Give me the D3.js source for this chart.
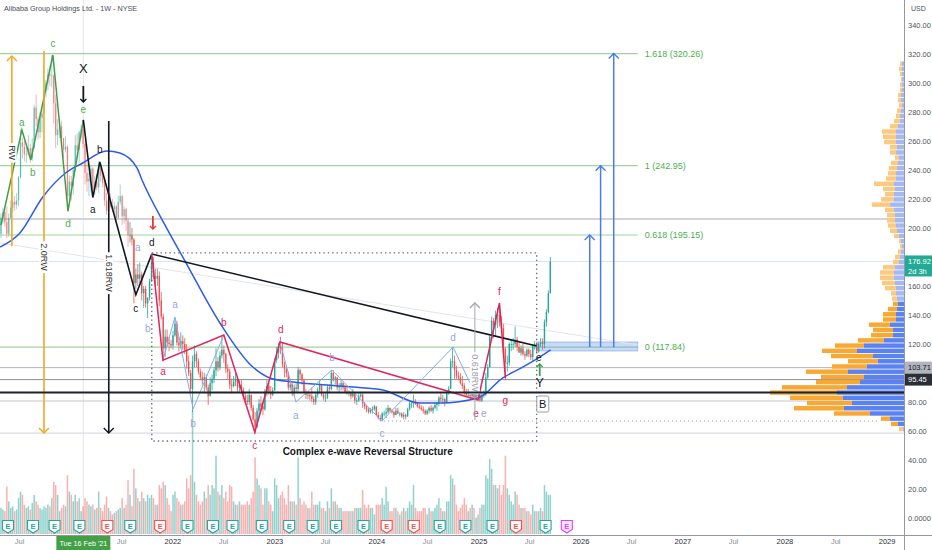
<!DOCTYPE html>
<html>
<head>
<meta charset="utf-8">
<script src="https://cdn.jsdelivr.net/npm/d3@7"></script>
<style>
html, body { margin: 0; padding: 0; background: #fff; }
svg { display: block; font-family: "Liberation Sans", Arial, sans-serif; }
</style>
</head>
<body>
<svg id="chart" width="932" height="550"></svg>
<script>
"use strict";
// weekly bars [high, low, close, volume M] - each year list starts on its first Monday
const yearStarts = ["2020-04-20", "2021-01-04", "2022-01-03", "2023-01-02", "2024-01-01", "2025-01-06"];
const firstOpen = 193;
const bars2020 = [
  [200,188,196,70],[210,193,207,80],
  [214,203,211,75],[213,201,204,70],[215,193,196,145],[210,194,207,100],
  [219,207,214,80],[225,211,218,85],[222,212,216,70],[224,213,219,75],[236,215,235,110],
  [268,234,259,130],[262,248,256,120],[260,246,251,90],[258,245,251,80],
  [264,250,255,85],[258,245,248,75],[262,246,255,95],[285,255,283,120],[292,270,275,100],
  [277,261,266,90],[280,262,276,80],[283,266,279,75],[296,279,294,85],
  [302,290,300,80],[310,295,306,90],[312,298,305,85],[319,297,305,110],
  [306,272,286,160],[292,255,264,150],[275,257,268,120],[275,262,270,70],[274,258,262,80],
  [262,248,254,90],[263,252,256,85],[257,211,222,180],[236,220,232,130]
];
const bars2021 = [
  [236,219,229,120],[242,223,240,100],[264,239,257,120],[265,248,254,100],
  [267,245,266,110],[271,262,268,70],[274,255,258,85],[260,230,238,110],
  [245,225,232,100],[238,222,234,90],[243,225,241,85],[242,222,227,90],[236,223,232,75],
  [237,226,228,80],[246,224,241,130],[244,232,236,80],[238,228,231,70],
  [233,215,219,90],[224,209,212,115],[220,208,218,80],[224,214,215,70],[220,211,213,60],
  [218,210,215,65],[216,205,207,70],[222,206,218,75],[230,216,222,80],
  [223,202,208,110],[215,203,213,80],[214,198,205,90],[207,187,195,165],
  [204,190,195,120],[200,188,192,85],[193,148,162,200],[172,158,168,140],[175,160,165,110],
  [176,162,168,100],[170,150,155,130],[160,145,158,110],[160,145,148,100],
  [152,138,152,120],[165,150,163,110],[182,163,176,120],[180,165,167,110],
  [172,160,165,90],[172,160,167,90],[170,146,150,150],[156,137,139,140],[141,108,117,160],
  [130,111,125,150],[130,118,121,110],[125,115,120,90],[123,117,119,70]
];
const bars2022 = [
  [129,116,126,120],[138,125,134,130],[136,119,121,110],[125,115,119,100],[128,117,122,90],
  [126,116,120,90],[124,113,116,100],[120,103,108,170],[112,98,100,140],
  [102,86,89,180],[112,73,108,380],[119,104,113,160],[115,104,108,120],
  [110,99,101,100],[103,95,97,90],[101,92,95,100],[100,86,97,130],
  [99,88,90,110],[92,78,84,150],[97,84,93,120],[99,88,96,150],[104,93,102,140],
  [117,98,108,240],[111,101,104,130],[115,102,112,120],[125,110,116,150],
  [119,107,113,110],[114,100,103,130],[106,96,101,100],[103,89,92,150],
  [96,86,91,145],[98,90,94,100],[100,91,96,90],[97,87,90,90],[95,87,92,100],
  [95,86,88,90],[90,82,84,90],[86,79,81,90],[85,78,80,100],
  [89,78,85,90],[84,74,76,110],[78,67,68,130],[73,58,63,235],[76,62,74,170],
  [82,70,79,150],[84,74,77,140],[80,71,75,90],[89,74,87,140],
  [95,84,91,140],[93,85,87,100],[91,82,85,90],[90,84,88,70]
];
const bars2023 = [
  [110,90,109,170],[118,107,114,150],[121,110,118,110],[125,113,117,120],[121,104,106,130],
  [108,97,103,110],[104,97,100,90],[101,88,90,150],[96,88,92,100],
  [93,84,86,100],[92,84,90,100],[93,86,89,90],[104,87,102,235],
  [103,95,99,110],[100,92,95,90],[96,86,87,100],[89,82,85,90],
  [87,82,85,80],[87,81,84,80],[90,80,82,130],[84,78,80,90],[86,78,85,90],
  [90,83,88,90],[95,86,92,100],[92,84,85,80],[86,81,83,80],
  [86,80,83,70],[92,82,90,100],[92,86,89,80],[102,88,100,140],[102,94,96,100],
  [98,92,97,100],[97,88,90,90],[93,86,91,80],[96,88,93,80],
  [94,88,90,70],[92,86,87,70],[90,85,86,70],[88,84,87,70],
  [87,82,84,70],[89,83,86,70],[86,79,81,80],[83,78,81,80],[86,80,84,80],
  [87,83,85,80],[87,76,79,135],[80,75,77,90],[78,73,75,80],
  [76,72,73,90],[76,72,75,80],[77,72,75,80],[78,74,77,60]
];
const bars2024 = [
  [76,70,71,90],[73,68,69,90],[71,67,68,90],[73,66.6,72,110],[74,70,72,90],
  [76,69,73,145],[78,72,76,100],[76,73,74,70],[75,72,73,70],
  [74,69,71,80],[76,71,74,80],[76,72,72,70],[73,70,72,60],
  [73,69,70,70],[73,68,71,80],[72,68,70,70],[76,70,75,80],[80,74,79,100],
  [80,76,79,90],[85,76,80,150],[82,78,79,80],[80,76,77,70],
  [79,75,76,70],[78,74,75,70],[77,72,74,80],[75,71,72,80],
  [75,71,74,60],[77,72,76,80],[78,73,74,70],[77,72,76,70],[80,75,78,80],
  [80,74,79,90],[84,77,83,110],[86,80,82,80],[85,79,82,70],
  [83,77,80,70],[88,79,87,100],[91,85,89,100],[110,89,108,180],[118,104,108,170],
  [112,96,102,150],[105,96,98,90],[101,95,97,70],[100,92,93,80],
  [98,89,91,90],[93,85,87,110],[89,84,85,90],[89,84,85,70],
  [87,82,84,80],[90,83,86,90],[87,82,83,80],[86,82,85,50],[87,82,85,60]
];
const bars2025 = [
  [86,80,81,80],[86,80,85,90],[88,83,85,90],[100,84,97,180],
  [106,96,104,170],[126,104,125,230],[139,122,136,200],[138,124,133,150],
  [143,125,140,150],[145,131,140,140],[148,132,135,150],[139,128,131,120],[134,113,117,150],
  [118,95,107,240],[112,101,107,140],[121,105,120,120],[123,115,120,100],
  [124,116,120,90],[132,118,123,130],[125,115,118,120],[122,114,114,90],
  [119,112,117,80],[120,112,113,80],[115,109,112,80],[117,111,116,70],[117,111,113,70],
  [116,109,111,60],[120,108,119,90],[122,116,120,70],[121,114,115,70],
  [121,114,120,70],[124,118,121,80],[124,116,120,70],[137,117,135,150],
  [144,132,142,130],[157,141,155,120],[180,155,176.92,120]
];

// blue weekly moving average
const maDates = ["2020-04-24","2020-07-04","2020-09-24","2020-12-19","2021-02-14","2021-05-11","2021-06-27",
  "2021-08-27","2021-09-14","2021-12-05","2022-02-15","2022-06-20","2022-10-16","2022-12-16","2023-03-08",
  "2023-07-08","2023-10-09","2024-01-24","2024-06-04","2024-08-16","2024-12-30","2025-03-29","2025-06-08",
  "2025-08-08","2025-09-16"];
const maValues = [186.9,196.6,221.4,238.6,244.8,253.1,251.7,241.4,233.1,202.1,177.2,134.5,104.1,96.6,93.8,
  91.7,90.3,88.3,79.3,79.3,82.8,96.6,104.1,111.0,115.9];

// wave counts [date, price]
const greenWave = [["2020-04-27",202],["2020-07-11",267.6],["2020-08-12",246.9],["2020-10-30",319.3],["2020-12-23",211.7],["2021-02-16",274.5]];
const blackWave = [["2021-02-16",274.5],["2021-03-22",221],["2021-04-16",245.5],["2021-08-23",154],["2021-10-19",182]];
const blackTrend = [["2021-10-19",182],["2025-07-28",118.6]];
const pinkWave = [["2021-10-19",182],["2021-11-28",108.9],["2022-07-04",126.2],["2022-10-23",59.3],["2023-01-21",121.4],
  ["2024-12-30",81.4],["2025-03-17",148.3],["2025-04-07",96.6]];
const blueWaveA = [["2021-11-28",108.9],["2022-01-10",138.6],["2022-03-16",75.2],["2022-07-04",126.2]];
const blueWaveB = [["2023-01-21",121.4],["2023-03-19",80],["2023-07-26",102.1],["2024-01-21",66.9],["2024-10-02",117.9],["2024-12-30",81.4]];
const faintTrend = [["2020-04-24",189.7],["2026-07-27",119.3]];

// wave labels [date, price, text, colour key]
const waveLabels = [
  ["2020-07-11",272.4,"a","g"],["2020-08-19",238.6,"b","g"],["2020-10-30",326.9,"c","g"],["2020-12-23",203.4,"d","g"],["2021-02-16",281.4,"e","g"],
  ["2021-03-22",212.4,"a","k"],["2021-04-16",253.8,"b","k"],["2021-08-23",144.8,"c","k"],["2021-10-19",190.3,"d","k"],["2025-08-05",111,"e","k"],
  ["2021-11-28",100.7,"a","p"],["2022-07-04",134.5,"b","p"],["2022-10-23",50.3,"c","p"],["2023-01-24",129.7,"d","p"],
  ["2024-12-23",72.4,"e","p"],["2025-03-17",155.9,"f","p"],["2025-04-07",80.7,"g","p"],
  ["2021-08-30",186.2,"a","b"],["2021-10-05",131,"b","b"],["2022-01-10",146.9,"a","b"],["2022-03-16",65.5,"b","b"],
  ["2023-03-19",71,"a","b"],["2023-07-26",111,"b","b"],["2024-01-21",58.6,"c","b"],["2024-10-02",124.8,"d","b"],["2025-01-20",72.4,"e","b"]
];

// measured moves [date, from price, to price, label, colour, label price]
const rwArrows = [["2020-06-05",187.6,318.6,"RW","#f5a623",252],["2020-09-28",322,58.6,"2.0RW","#f5a623",180],
  ["2021-05-18",273.8,58.6,"1.618RW","#131722",169],["2024-12-19",67.6,148.3,"0.618RW","#a3a6af",100]];
const smallArrows = [["2021-02-16",297.9,286.9,"#131722"],["2021-10-23",208.3,199.3,"#e53935"],["2025-08-08",97.9,106.2,"#43a047"]];

// fibonacci extension
const fibLevels = [0, 0.618, 1, 1.618];
const fibPrices = [117.84, 195.15, 242.95, 320.26];
const fibArrowDates = ["2026-02-03", "2026-03-14", "2026-04-30"];

// horizontal levels
const levelPrices = [206.2, 103.71, 95.45, 80.7, 58.6];
const levelColors = ["#d1d4dc", "#b2b5be", "#8a8d96", "#c3c6cd", "#d1d4dc"];
const lastPrice = 176.92;

// volume profile rows from 59.5 in 3.6 steps
const vpStart = 59.5, vpStep = 3.6;
const vpTotal = [5,13,23,70,110,97,114,134,122,88,83,98,72,56,73,82,69,46,33,31,35,21,21,16,11,12,13,19,22,24,24,21,11,9,6,4,5,10,14,16,17,17,19,32,23,19,21,30,18,16,15,13,9,14,14,20,21,22,14,10,8,7,5,6,6,4,4,3,4,5,4];
const vpUp = [1,6,14,34,60,52,61,67,57,44,40,56,37,26,31,47,40,20,11,11,14,8,8,7,6,7,8,8,9,10,10,9,5,4,3,2,3,5,7,8,9,9,10,14,10,10,9,10,8,8,7,6,5,8,7,8,8,8,6,4,4,3,2,3,3,2,2,2,2,2,2];

// earnings reports (1 beat, 0 miss, -1 upcoming)
const earningsDates = ["2020-05-22","2020-08-20","2020-11-05","2021-02-02","2021-05-13","2021-08-03","2021-11-18","2022-02-24",
  "2022-05-26","2022-08-04","2022-11-17","2023-02-23","2023-05-18","2023-08-10","2023-11-16","2024-02-07","2024-05-14",
  "2024-08-15","2024-11-15","2025-02-20","2025-05-15","2025-08-29","2025-11-13"];
const earningsResult = [1,1,1,1,0,1,0,1,1,1,1,1,1,1,1,0,0,1,1,1,0,1,-1];

const xTickDates = ["2020-07-01","2021-07-01","2022-01-01","2022-07-01","2023-01-01","2023-07-01","2024-01-01","2024-07-01",
  "2025-01-01","2025-07-01","2026-01-01","2026-07-01","2027-01-01","2027-07-01","2028-01-01","2028-07-01","2029-01-01"];
const priceTicks = d3.range(0, 341, 20);
const crossDate = "2021-02-16";
const boxDates = ["2021-10-19", "2025-07-28"];
const boxPrices = [53.1, 182.8];

const parse = d3.timeParse("%Y-%m-%d");
const svg = d3.select("#chart");
const plotR = 904, plotB = 535;

const x = d3.scaleTime().domain([parse("2020-04-20"), parse("2029-01-01")]).range([-1, 886.6]);
const y = d3.scaleLinear().domain([-11.7, 357.2]).range([plotB, 0]);
const yVol = d3.scaleLinear().domain([0, 380]).range([534, 410]);
const X = s => x(parse(s));

// build candles
const candles = [];
let prevClose = firstOpen;
[bars2020, bars2021, bars2022, bars2023, bars2024, bars2025].forEach((bars, k) => {
  const s = parse(yearStarts[k]);
  bars.forEach((b, i) => {
    const o = prevClose;
    candles.push({date: d3.timeDay.offset(s, 7 * i), open: o, close: b[2],
      high: Math.max(b[0], o, b[2]), low: Math.min(b[1], o, b[2]), vol: b[3]});
    prevClose = b[2];
  });
});

svg.append("defs").append("clipPath").attr("id", "plot")
  .append("rect").attr("x", 0).attr("y", 0).attr("width", plotR).attr("height", plotB);
const g = svg.append("g").attr("clip-path", "url(#plot)");

// crosshair
g.append("line").attr("x1", X(crossDate)).attr("x2", X(crossDate)).attr("y1", 0).attr("y2", plotB)
  .attr("stroke", "#e3e5ea").attr("stroke-width", 1);

// horizontal levels
g.selectAll(".lvl").data(levelPrices).enter().append("line")
  .attr("x1", 0).attr("x2", plotR).attr("y1", d => y(d)).attr("y2", d => y(d))
  .attr("stroke", (d, i) => levelColors[i]).attr("stroke-width", (d, i) => i === 0 ? 2 : 1);
g.append("line").attr("x1", 0).attr("x2", plotR).attr("y1", y(lastPrice)).attr("y2", y(lastPrice))
  .attr("stroke", "#d6e4ee").attr("stroke-width", 1);
g.append("line").attr("x1", X("2024-01-14")).attr("x2", X("2028-12-08")).attr("y1", y(66.9)).attr("y2", y(66.9))
  .attr("stroke", "#9a9da6").attr("stroke-dasharray", "1,3");

// fib lines
const fibEnd = X("2026-07-25");
g.selectAll(".fib").data(fibPrices).enter().append("line")
  .attr("x1", 0).attr("x2", fibEnd).attr("y1", d => y(d)).attr("y2", d => y(d))
  .attr("stroke", "#9fd49f").attr("stroke-width", 1.2);
g.append("rect").attr("x", X("2025-07-28")).attr("y", y(121.4))
  .attr("width", fibEnd - X("2025-07-28")).attr("height", y(115.2) - y(121.4))
  .attr("fill", "rgba(100,150,235,0.35)").attr("stroke", "rgba(100,150,235,0.5)");

const line = d3.line().x(d => X(d[0])).y(d => y(d[1]));
g.append("path").attr("d", line(faintTrend)).attr("fill", "none").attr("stroke", "#e2e4e9").attr("stroke-width", 1);

// volume
const bw = 1.5;
g.selectAll(".vol").data(candles).enter().append("rect")
  .attr("x", d => x(d.date) - bw / 2).attr("width", bw)
  .attr("y", d => yVol(d.vol)).attr("height", d => 534 - yVol(d.vol))
  .attr("fill", d => d.close >= d.open ? "rgba(38,166,154,0.5)" : "rgba(239,83,80,0.45)");

// candles
const fadeBefore = parse("2021-08-01");
const cg = g.append("g");
candles.forEach(d => {
  const col = d.close >= d.open ? "#26a69a" : "#ef5350";
  const op = d.date < fadeBefore ? 0.55 : 1;
  cg.append("line").attr("x1", x(d.date)).attr("x2", x(d.date)).attr("y1", y(d.high)).attr("y2", y(d.low))
    .attr("stroke", col).attr("stroke-width", 0.8).attr("opacity", op);
  cg.append("rect").attr("x", x(d.date) - 0.7).attr("width", 1.4)
    .attr("y", y(Math.max(d.open, d.close))).attr("height", Math.max(0.8, Math.abs(y(d.open) - y(d.close))))
    .attr("fill", col).attr("opacity", op);
});

// moving average
const maPts = maDates.map((d, i) => [d, maValues[i]]);
g.append("path").attr("d", d3.line().x(d => X(d[0])).y(d => y(d[1])).curve(d3.curveMonotoneX)(maPts))
  .attr("fill", "none").attr("stroke", "#2d5be3").attr("stroke-width", 1.5);

// waves
function wave(pts, col, w) {
  g.append("path").attr("d", line(pts)).attr("fill", "none").attr("stroke", col).attr("stroke-width", w);
}
wave(blueWaveA, "#86aaec", 1);
wave(blueWaveB, "#86aaec", 1);
wave(greenWave, "#3f9d4a", 1.5);
wave(blackWave, "#131722", 1.6);
wave(blackTrend, "#131722", 1.6);
wave(pinkWave, "#e0245e", 1.5);

const labelCol = {g: "#4caf50", k: "#131722", p: "#e0245e", b: "#98a6dc"};
g.selectAll(".wl").data(waveLabels).enter().append("text")
  .attr("x", d => X(d[0])).attr("y", d => y(d[1])).attr("dy", "0.35em")
  .attr("text-anchor", "middle").attr("font-size", 10).attr("fill", d => labelCol[d[3]])
  .text(d => d[2]);

// dotted box
const bx0 = X(boxDates[0]), bx1 = X(boxDates[1]), by0 = y(boxPrices[1]), by1 = y(boxPrices[0]);
g.append("rect").attr("x", bx0).attr("y", by0).attr("width", bx1 - bx0).attr("height", by1 - by0)
  .attr("fill", "none").attr("stroke", "#6b6e78").attr("stroke-width", 1.4).attr("stroke-dasharray", "1.4,3");
g.append("text").attr("x", X("2023-12-01")).attr("y", y(46.2)).attr("dy", "0.35em")
  .attr("text-anchor", "middle").attr("font-size", 10).attr("font-weight", 700).attr("fill", "#131722")
  .text("Complex e-wave Reversal Structure");

// arrows
function arrowHead(xp, yp, up, col, size) {
  const s = size || 5, dir = up ? 1 : -1;
  g.append("path").attr("d", `M${xp - s},${yp + s * dir}L${xp},${yp}L${xp + s},${yp + s * dir}`)
    .attr("fill", "none").attr("stroke", col).attr("stroke-width", 1.4);
}
rwArrows.forEach(a => {
  const xp = X(a[0]), y1 = y(a[1]), y2 = y(a[2]);
  g.append("line").attr("x1", xp).attr("x2", xp).attr("y1", y1).attr("y2", y2)
    .attr("stroke", a[4]).attr("stroke-width", a[3] === "0.618RW" ? 1 : 1.6);
  arrowHead(xp, y2, y2 < y1, a[4], 5);
  const mid = y(a[5]);
  const t = g.append("text").attr("transform", `translate(${xp},${mid}) rotate(90)`)
    .attr("text-anchor", "middle").attr("dy", "0.35em").attr("font-size", 9)
    .attr("fill", a[3] === "0.618RW" ? "#9a9da6" : "#333").text(a[3]);
  const bb = t.node().getBBox();
  g.insert("rect", () => t.node()).attr("transform", `translate(${xp},${mid}) rotate(90)`)
    .attr("x", bb.x - 2).attr("y", bb.y).attr("width", bb.width + 4).attr("height", bb.height).attr("fill", "#fff");
});
smallArrows.forEach(a => {
  const xp = X(a[0]), y1 = y(a[1]), y2 = y(a[2]);
  g.append("line").attr("x1", xp).attr("x2", xp).attr("y1", y1).attr("y2", y2).attr("stroke", a[3]).attr("stroke-width", 1.8);
  arrowHead(xp, y2, y2 < y1, a[3], 3);
});
g.append("text").attr("x", X(crossDate)).attr("y", y(310.3)).attr("dy", "0.35em").attr("text-anchor", "middle")
  .attr("font-size", 13).attr("fill", "#131722").text("X");
g.append("text").attr("x", X("2025-08-08")).attr("y", y(93.1)).attr("dy", "0.35em").attr("text-anchor", "middle")
  .attr("font-size", 12).attr("fill", "#131722").text("Y");
const bX = X("2025-08-19"), bY = y(78.6);
g.append("rect").attr("x", bX - 6).attr("y", bY - 8).attr("width", 12).attr("height", 16)
  .attr("fill", "#fff").attr("stroke", "#9a9da6").attr("rx", 1.5);
g.append("text").attr("x", bX).attr("y", bY).attr("dy", "0.35em").attr("text-anchor", "middle")
  .attr("font-size", 11).attr("fill", "#131722").text("B");

// fib arrows and labels
fibArrowDates.forEach((d, i) => {
  const xp = X(d), y2 = y(fibPrices[i + 1]);
  g.append("line").attr("x1", xp).attr("x2", xp).attr("y1", y(fibPrices[0])).attr("y2", y2)
    .attr("stroke", "#4a7be8").attr("stroke-width", 1.5);
  arrowHead(xp, y2, true, "#4a7be8", 5);
});
g.selectAll(".fl").data(fibPrices).enter().append("text")
  .attr("x", X("2026-08-19")).attr("y", d => y(d)).attr("dy", "0.35em")
  .attr("font-size", 9).attr("fill", "#4caf50")
  .text((d, i) => `${fibLevels[i]} (${d.toFixed(2)})`);

// volume profile
const totalVol = d3.sum(vpTotal);
const poc = d3.maxIndex(vpTotal);
let lo = poc, hi = poc, acc = vpTotal[poc];
while (acc < totalVol * 0.7) {
  const below = lo > 0 ? vpTotal[lo - 1] : -1;
  const above = hi < vpTotal.length - 1 ? vpTotal[hi + 1] : -1;
  if (above >= below) { hi++; acc += above; } else { lo--; acc += below; }
}
const vpX = d3.scaleLinear().domain([0, d3.max(vpTotal)]).range([0, 134]);
const vp = g.append("g");
vpTotal.forEach((t, i) => {
  const top = y(vpStart + vpStep * (i + 1)) + 0.4;
  const h = y(vpStart + vpStep * i) - y(vpStart + vpStep * (i + 1)) - 0.8;
  const inVA = i >= lo && i <= hi;
  vp.append("rect").attr("x", plotR - vpX(t)).attr("y", top).attr("width", vpX(t - vpUp[i])).attr("height", h)
    .attr("fill", inVA ? "#f8a935" : "#fbc97f");
  vp.append("rect").attr("x", plotR - vpX(vpUp[i])).attr("y", top).attr("width", vpX(vpUp[i])).attr("height", h)
    .attr("fill", inVA ? "#5a82f0" : "#a3b8f5");
});
const pocY = y(vpStart + vpStep * (poc + 0.5));
g.append("line").attr("x1", 0).attr("x2", plotR).attr("y1", pocY).attr("y2", pocY)
  .attr("stroke", "#1e222d").attr("stroke-width", 2);

// earnings badges
earningsDates.forEach((d, i) => {
  const r = earningsResult[i];
  const col = r === 1 ? "#26a69a" : r === 0 ? "#ef5350" : "#e040fb";
  const eg = svg.append("g").attr("transform", `translate(${X(d)},520)`);
  eg.append("path").attr("d", "M-5.5,0.5h11v9l-5.5,3.5l-5.5,-3.5z")
    .attr("fill", r === -1 ? "#fbe7fe" : "#fff").attr("stroke", col).attr("stroke-width", 1.1);
  eg.append("text").attr("x", 0).attr("y", 6.3).attr("dy", "0.35em").attr("text-anchor", "middle")
    .attr("font-size", 7.5).attr("font-weight", 700).attr("fill", col).text("E");
});

// title
svg.append("text").attr("x", 4).attr("y", 11).attr("font-size", 7.2).attr("fill", "#4a4d57")
  .text("Alibaba Group Holdings Ltd. - 1W - NYSE");

// axes frame
svg.append("line").attr("x1", 0).attr("x2", 932).attr("y1", plotB + 0.5).attr("y2", plotB + 0.5).attr("stroke", "#9598a1");
svg.append("line").attr("x1", plotR + 0.5).attr("x2", plotR + 0.5).attr("y1", 0).attr("y2", 550).attr("stroke", "#9598a1");

// bottom axis
const xa = svg.append("g").attr("transform", `translate(0,${plotB})`)
  .call(d3.axisBottom(x).tickValues(xTickDates.map(parse)).tickSize(0).tickPadding(4)
    .tickFormat(d => d.getMonth() === 6 ? "Jul" : d3.timeFormat("%Y")(d)));
xa.select(".domain").remove();
xa.selectAll("text").attr("font-size", 7.5).attr("font-family", "Liberation Sans, Arial, sans-serif")
  .attr("fill", d => d.getMonth() === 6 ? "#8a8d96" : "#2a2e39");
const cx = X(crossDate);
svg.append("rect").attr("x", cx - 27).attr("y", plotB + 1).attr("width", 54).attr("height", 14).attr("fill", "#43a047");
svg.append("text").attr("x", cx).attr("y", plotB + 8.5).attr("dy", "0.35em").attr("text-anchor", "middle")
  .attr("font-size", 7.2).attr("fill", "#fff").text("Tue 16 Feb '21");

// price tags cover axis labels that sit under them
const tags = [[lastPrice, "#22ab94", "#fff", "2d 3h"], [levelPrices[1], "#b2b5be", "#131722"], [levelPrices[2], "#2a2e39", "#fff"]];
const hidden = p => tags.some(t => Math.abs(y(p) - y(t[0])) < 9);

// right axis
const ya = svg.append("g").attr("transform", `translate(${plotR},0)`)
  .call(d3.axisRight(y).tickValues(priceTicks.filter(p => !hidden(p))).tickSize(0).tickPadding(4)
    .tickFormat(d => d === 0 ? "0.0000" : d.toFixed(2)));
ya.select(".domain").remove();
ya.selectAll("text").attr("font-size", 7.5).attr("font-family", "Liberation Sans, Arial, sans-serif").attr("fill", "#50535e");
svg.append("text").attr("x", 911).attr("y", 11).attr("font-size", 7).attr("fill", "#50535e").text("USD");

tags.forEach(t => {
  const yy = y(t[0]);
  svg.append("rect").attr("x", plotR + 1).attr("y", yy - 6).attr("width", 27).attr("height", t[3] ? 21 : 12).attr("fill", t[1]);
  svg.append("text").attr("x", plotR + 4).attr("y", yy).attr("dy", "0.35em").attr("font-size", 7.5).attr("fill", t[2]).text(t[0].toFixed(2));
  if (t[3]) svg.append("text").attr("x", plotR + 4).attr("y", yy + 9.5).attr("dy", "0.35em").attr("font-size", 7.5).attr("fill", t[2]).text(t[3]);
});
</script>
</body>
</html>
